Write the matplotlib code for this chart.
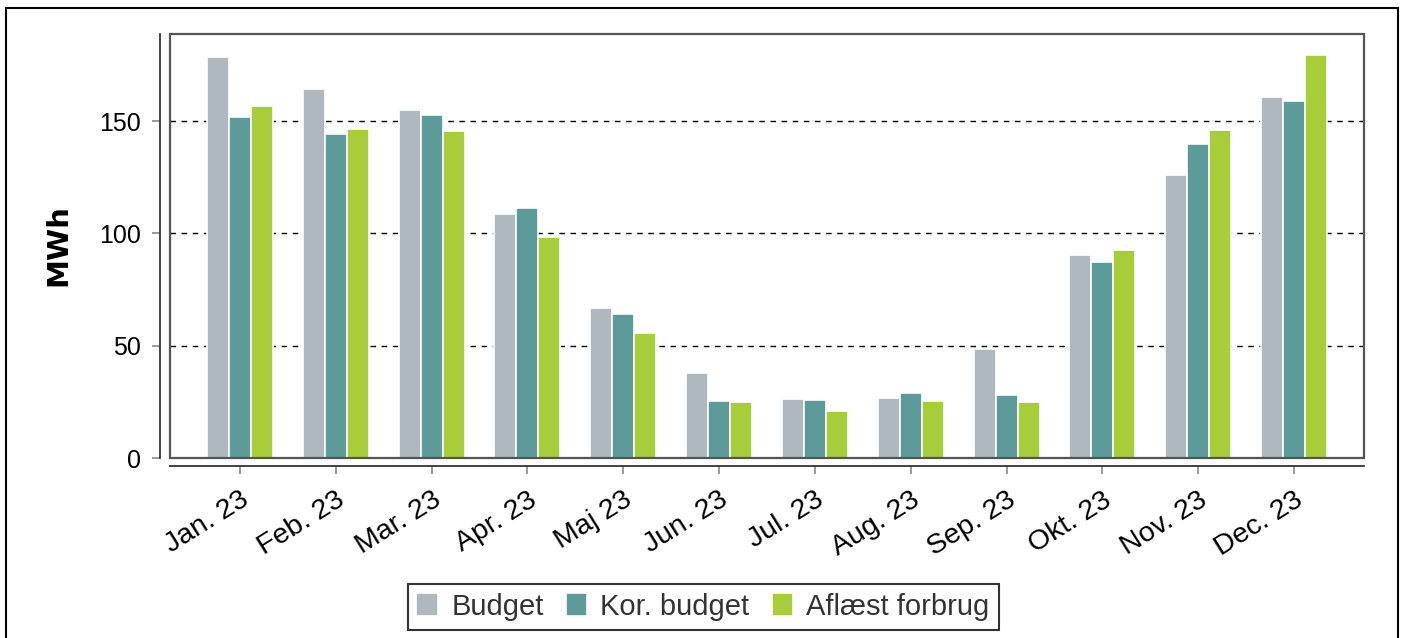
import matplotlib.pyplot as plt
from matplotlib.patches import Rectangle
import numpy as np

plt.rcParams['font.family'] = ['Liberation Sans', 'DejaVu Sans']

months = ['Jan. 23', 'Feb. 23', 'Mar. 23', 'Apr. 23', 'Maj 23', 'Jun. 23',
          'Jul. 23', 'Aug. 23', 'Sep. 23', 'Okt. 23', 'Nov. 23', 'Dec. 23']
budget = [178.5, 164.3, 154.9, 108.6, 66.8, 37.8, 26.3, 26.7, 48.5, 90.4, 126.0, 160.7]
kor_budget = [151.8, 144.3, 152.7, 111.3, 64.1, 25.4, 25.8, 28.9, 28.0, 87.3, 139.8, 159.0]
aflaest = [156.7, 146.5, 145.6, 98.4, 55.7, 24.9, 20.9, 25.4, 24.9, 92.6, 146.0, 179.4]

c_budget = '#aeb8be'
c_kor = '#5c9b99'
c_afl = '#a7cd3a'

fig = plt.figure(figsize=(14.05, 6.38), dpi=100)
ax = fig.add_axes([170/1405, 1-458/638, 1194/1405, 424/638])

x = np.arange(len(months))
w = 0.23
ax.bar(x - w, budget, w, color=c_budget, edgecolor='white', linewidth=1.2, label='Budget', zorder=2)
ax.bar(x, kor_budget, w, color=c_kor, edgecolor='white', linewidth=1.2, label='Kor. budget', zorder=2)
ax.bar(x + w, aflaest, w, color=c_afl, edgecolor='white', linewidth=1.2, label='Aflæst forbrug', zorder=2)

ax.set_xlim(-0.73, 11.73)
ax.set_ylim(0, 188.8)

ax.yaxis.grid(True, color='black', linestyle=(0, (4, 4)), linewidth=1.0)
ax.set_axisbelow(True)

# offset left/bottom axis lines, box around the panel
ax.spines['left'].set_position(('outward', 7.2))
ax.spines['bottom'].set_position(('outward', 5.8))
ax.spines['top'].set_visible(False)
ax.spines['right'].set_visible(False)
ax.spines['left'].set_color('#333333')
ax.spines['bottom'].set_color('#333333')
ax.spines['left'].set_linewidth(1.3)
ax.spines['bottom'].set_linewidth(1.3)
ax.add_patch(Rectangle((0, 0), 1, 1, transform=ax.transAxes, fill=False,
                       edgecolor='#555555', linewidth=1.6, clip_on=False, zorder=5))

ax.tick_params(axis='both', colors='#888888', labelcolor='black', labelsize=18,
               length=6, width=1.2)
ax.tick_params(axis='y', pad=8)
ax.tick_params(axis='x', pad=9)

ax.set_yticks([0, 50, 100, 150])
ax.set_xticks(x)
ax.set_xticklabels(months, rotation=32, ha='right', rotation_mode='anchor', fontsize=20.5)

fig.text(58/1405, 1-245/638, 'MWh', rotation=90, ha='center', va='center',
         fontsize=21, fontweight='bold', family='DejaVu Sans')

leg = fig.legend(loc='upper center', bbox_to_anchor=(703/1405, 1-584/638), ncol=3,
                 fontsize=21, frameon=True, fancybox=False, edgecolor='black',
                 handlelength=0.75, handleheight=0.8, handletextpad=0.45,
                 columnspacing=0.75, borderpad=0.3, borderaxespad=0)
leg.get_frame().set_linewidth(1.5)
for t in leg.get_texts():
    t.set_color('#333333')

fig.patches.append(Rectangle((6/1405, -0.1), 1392/1405, 1.1 - 8/638,
                             transform=fig.transFigure, fill=False,
                             edgecolor='black', linewidth=1.5))

fig.savefig('out.png', dpi=100)
